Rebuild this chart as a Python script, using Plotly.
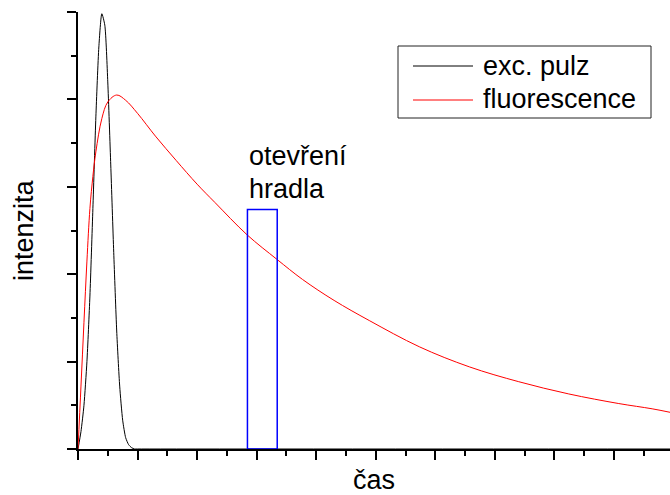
import plotly.graph_objects as go

# excitation pulse (time, intensity)
pulse_t = [0, 0.05, 0.10, 0.15, 0.20, 0.25, 0.30, 0.35, 0.40, 0.45, 0.50, 0.55,
           0.60, 0.65, 0.70, 0.75, 0.80, 0.85, 0.90, 0.95, 1.00, 9.94]
pulse_i = [0, 0.2, 0.5, 1.0, 1.75, 2.75, 3.8, 4.6, 4.98, 4.85, 4.2, 3.25,
           2.25, 1.35, 0.72, 0.33, 0.13, 0.05, 0.015, 0, 0, 0]

# fluorescence response (time, intensity)
fluo_t = [0, 0.05, 0.10, 0.15, 0.20, 0.25, 0.30, 0.40, 0.50, 0.65, 0.80, 1.00,
          1.30, 1.65, 2.00, 2.30, 2.84, 3.34, 3.77, 4.30, 4.89, 5.73, 6.57,
          7.40, 8.24, 9.08, 9.64, 9.94]
fluo_i = [0, 0.72, 1.45, 2.15, 2.75, 3.12, 3.40, 3.78, 3.97, 4.05, 3.99, 3.84,
          3.58, 3.30, 3.03, 2.82, 2.45, 2.17, 1.94, 1.70, 1.47, 1.17, 0.94,
          0.77, 0.63, 0.52, 0.46, 0.42]

# gate window
gate_start, gate_end, gate_height = 2.845, 3.345, 2.74

series_names = ["exc. pulz", "fluorescence"]
gate_label = ["otevření", "hradla"]
x_title = "čas"
y_title = "intenzita"

W, H = 670, 495
L, R, T, B = 78, 0, 12, 46
FONT = "Liberation Sans, Arial, sans-serif"
FS = 27


def px(x):
    return (x - L) / (W - L - R)


def py(y):
    return (H - B - y) / (H - T - B)


fig = go.Figure()
fig.add_trace(go.Scatter(x=pulse_t, y=pulse_i, mode="lines", name=series_names[0],
                         line=dict(color="black", width=1, shape="spline", smoothing=0.6)))
fig.add_trace(go.Scatter(x=fluo_t, y=fluo_i, mode="lines", name=series_names[1],
                         line=dict(color="#ff0000", width=1, shape="spline", smoothing=1.0)))

shapes = [
    dict(type="rect", xref="x", yref="y", x0=gate_start, x1=gate_end, y0=0, y1=gate_height,
         line=dict(color="#0000ff", width=1.5), layer="above"),
    # legend frame and samples
    dict(type="rect", xref="paper", yref="paper", x0=px(398), x1=px(651), y0=py(118), y1=py(46),
         line=dict(color="#222222", width=1), fillcolor="white", layer="above"),
    dict(type="line", xref="paper", yref="paper", x0=px(413), x1=px(473), y0=py(66), y1=py(66),
         line=dict(color="black", width=1), layer="above"),
    dict(type="line", xref="paper", yref="paper", x0=px(413), x1=px(473), y0=py(100), y1=py(100),
         line=dict(color="#ff0000", width=1), layer="above"),
]

font = dict(family=FONT, size=FS, color="black")
annotations = [
    dict(xref="paper", yref="paper", x=px(481), y=py(65.5), text=series_names[0],
         xanchor="left", yanchor="middle", showarrow=False, font=font),
    dict(xref="paper", yref="paper", x=px(481), y=py(99), text=series_names[1],
         xanchor="left", yanchor="middle", showarrow=False, font=font),
    dict(xref="paper", yref="paper", x=px(247), y=py(155.5), text=gate_label[0],
         xanchor="left", yanchor="middle", showarrow=False, font=font),
    dict(xref="paper", yref="paper", x=px(247), y=py(188.5), text=gate_label[1],
         xanchor="left", yanchor="middle", showarrow=False, font=font),
    dict(xref="paper", yref="paper", x=0.5, y=py(480.5), text=x_title,
         xanchor="center", yanchor="middle", showarrow=False, font=font),
    dict(xref="paper", yref="paper", x=px(23.5), y=0.5, text=y_title, textangle=-90,
         xanchor="center", yanchor="middle", showarrow=False, font=font),
]

axis_common = dict(showgrid=False, zeroline=False, showticklabels=False,
                   showline=True, linecolor="black", linewidth=2,
                   ticks="outside", ticklen=9, tickwidth=2, tickcolor="black",
                   dtick=1, tick0=0,
                   minor=dict(ticks="outside", ticklen=5, tickwidth=2,
                              tickcolor="black", dtick=0.5, showgrid=False))

fig.update_layout(
    width=W, height=H,
    margin=dict(l=L, r=R, t=T, b=B, pad=0),
    paper_bgcolor="white", plot_bgcolor="white",
    showlegend=False,
    xaxis=dict(range=[0, 9.94], **axis_common),
    yaxis=dict(range=[0, 5], **axis_common),
    shapes=shapes,
    annotations=annotations,
    font=dict(family=FONT),
)

fig.write_html("out.html")
